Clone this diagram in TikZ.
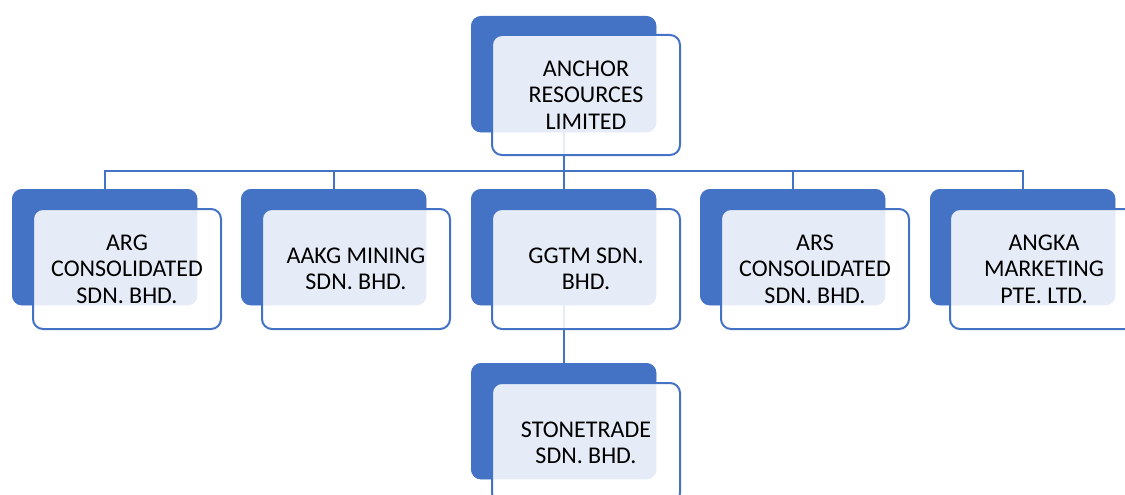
\documentclass[tikz,border=0pt]{standalone}
\usepackage{fontspec}
\setmainfont{Carlito}
\definecolor{oblue}{HTML}{4472C4}
\tikzset{
  backbox/.style={rectangle, rounded corners=10pt, fill=oblue, draw=none, minimum width=185pt, minimum height=116pt, anchor=north west, inner sep=0pt},
  frontbox/.style={rectangle, rounded corners=10pt, fill=white, fill opacity=0.87, text opacity=1, draw=oblue, line width=2pt, draw opacity=1, minimum width=188pt, minimum height=120pt, anchor=north west, inner sep=0pt, align=center, font=\fontsize{24}{26.5}\selectfont, text=black},
  conn/.style={draw=oblue, line width=2pt}
}
\begin{document}
\begin{tikzpicture}[x=1pt,y=-1pt]
\useasboundingbox (0,0) rectangle (1125,495);
\clip (0,0) rectangle (1125,495);
\coordinate (bus) at (0,171);
% back boxes
\node[backbox] (b0) at (471,16) {};
\node[backbox] (b1) at (12,189) {};
\node[backbox] (b2) at (241,189) {};
\node[backbox] (b3) at (471,189) {};
\node[backbox] (b4) at (700,189) {};
\node[backbox] (b5) at (930,189) {};
\node[backbox] (b6) at (471,363) {};
% connectors
\foreach \i in {1,...,5}{
  \draw[conn] (b0.center) -- (b0.center |- bus) -| (b\i.north);
}
\draw[conn] (b3.center) -- (b6.north);
% redraw back boxes above connectors
\foreach \i in {0,...,6}{
  \fill[oblue, rounded corners=10pt] (b\i.north west) rectangle (b\i.south east);
}
% front boxes
\node[frontbox] (f0) at (491,34) {ANCHOR\\RESOURCES\\LIMITED};
\node[frontbox] (f1) at (32,208) {ARG\\CONSOLIDATED\\SDN. BHD.};
\node[frontbox] (f2) at (261,208) {AAKG MINING\\SDN. BHD.};
\node[frontbox] (f3) at (491,208) {GGTM SDN.\\BHD.};
\node[frontbox] (f4) at (720,208) {ARS\\CONSOLIDATED\\SDN. BHD.};
\node[frontbox] (f5) at (949,208) {ANGKA\\MARKETING\\PTE. LTD.};
\node[frontbox] (f6) at (491,382) {STONETRADE\\SDN. BHD.};
\end{tikzpicture}
\end{document}
